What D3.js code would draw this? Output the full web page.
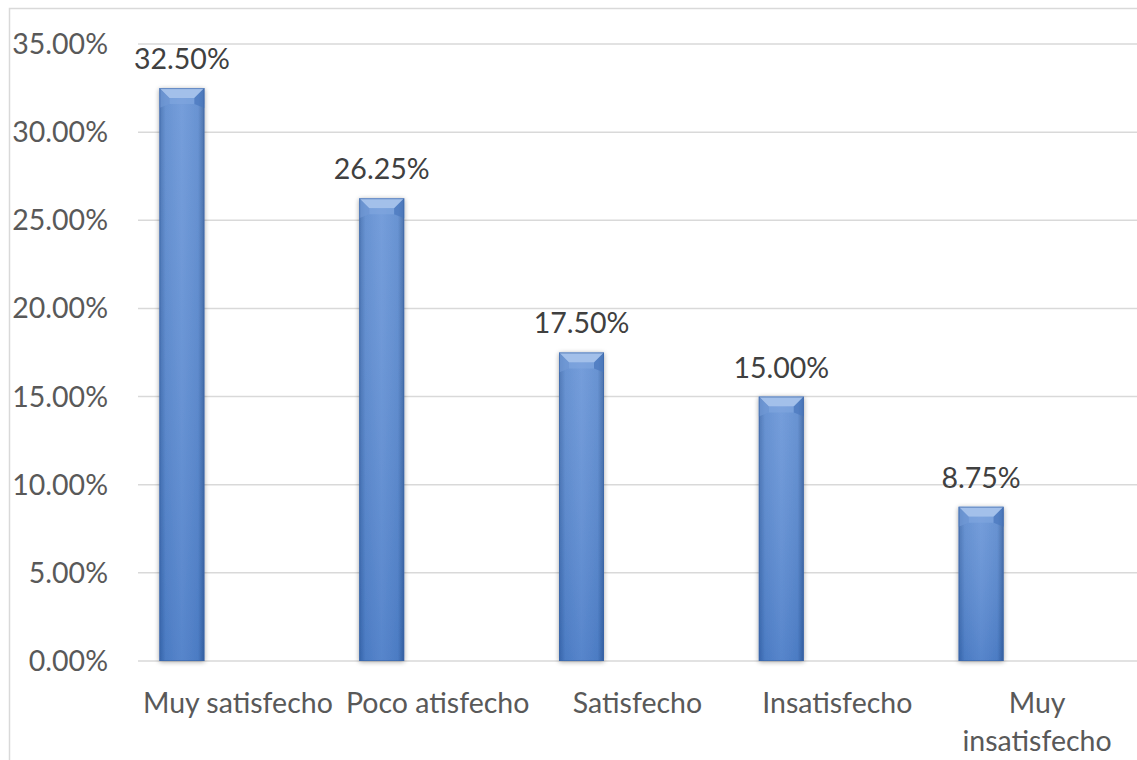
<!DOCTYPE html>
<html><head><meta charset="utf-8">
<script src="https://cdn.jsdelivr.net/npm/d3@7"></script>
<style>body{margin:0;background:#fff;}svg{display:block;}</style>
</head><body>
<svg id="c" width="1137" height="760"></svg>
<script>
const categories = ["Muy satisfecho","Poco atisfecho","Satisfecho","Insatisfecho","Muy insatisfecho"];
const values = [0.325,0.2625,0.175,0.15,0.0875];
const yTicks = [0,0.05,0.10,0.15,0.20,0.25,0.30,0.35];
const labelLines = [["Muy satisfecho"],["Poco atisfecho"],["Satisfecho"],["Insatisfecho"],["Muy","insatisfecho"]];

(function(){
const svg = d3.select("#c");
const W=1137,H=760;
const pL=138,pR=1137,pT=44,pB=661;
const font="Lato, 'Liberation Sans', sans-serif";
const fs=28.5;

const x = d3.scaleBand().domain(categories).range([pL,pR]).padding(0);
const y = d3.scaleLinear().domain([0,0.35]).range([pB,pT]);

const defs = svg.append("defs");
const g1 = defs.append("linearGradient").attr("id","barH").attr("x1","0").attr("x2","1").attr("y1","0").attr("y2","0");
g1.append("stop").attr("offset","0").attr("stop-color","#3a68ad");
g1.append("stop").attr("offset","0.14").attr("stop-color","#5585cc");
g1.append("stop").attr("offset","0.5").attr("stop-color","#6391d6");
g1.append("stop").attr("offset","0.86").attr("stop-color","#5585cc");
g1.append("stop").attr("offset","1").attr("stop-color","#345f9f");
const g2 = defs.append("linearGradient").attr("id","barV").attr("x1","0").attr("x2","0").attr("y1","0").attr("y2","1");
g2.append("stop").attr("offset","0").attr("stop-color","#ffffff").attr("stop-opacity","0.12");
g2.append("stop").attr("offset","1").attr("stop-color","#1f4f9a").attr("stop-opacity","0.18");
const f = defs.append("filter").attr("id","sh").attr("x","-30%").attr("y","-5%").attr("width","160%").attr("height","110%");
f.append("feGaussianBlur").attr("in","SourceAlpha").attr("stdDeviation","2.5").attr("result","b");
f.append("feOffset").attr("in","b").attr("dx","0").attr("dy","1").attr("result","o");
f.append("feComponentTransfer").attr("in","o").attr("result","o2").append("feFuncA").attr("type","linear").attr("slope","0.35");
const m = f.append("feMerge"); m.append("feMergeNode").attr("in","o2"); m.append("feMergeNode").attr("in","SourceGraphic");

svg.append("path").attr("d",`M9.5,${H} L9.5,8.5 L${W},8.5`).attr("fill","none").attr("stroke","#d9d9d9").attr("stroke-width",1.5);

svg.append("g").selectAll("line").data(yTicks).join("line")
  .attr("x1",pL).attr("x2",pR).attr("y1",d=>y(d)).attr("y2",d=>y(d))
  .attr("stroke","#d9d9d9").attr("stroke-width",1.5);

svg.append("g").selectAll("text").data(yTicks).join("text")
  .attr("x",108).attr("y",d=>y(d)).attr("dy","0.35em").attr("text-anchor","end")
  .attr("font-family",font).attr("font-size",fs).attr("fill","#595959")
  .text(d=>d3.format(".2%")(d));

const bw = 45, off = -56, bv = 10;
const cx = d=>x(d)+x.bandwidth()/2+off;
const bars = svg.append("g").selectAll("g").data(categories).join("g").attr("filter","url(#sh)");
bars.append("rect").attr("x",d=>cx(d)-bw/2).attr("width",bw)
  .attr("y",(d,i)=>y(values[i])).attr("height",(d,i)=>pB-y(values[i]))
  .attr("fill","url(#barH)");
bars.append("rect").attr("x",d=>cx(d)-bw/2).attr("width",bw)
  .attr("y",(d,i)=>y(values[i])).attr("height",(d,i)=>pB-y(values[i]))
  .attr("fill","url(#barV)");
bars.append("path").attr("d",(d,i)=>{const x0=cx(d)-bw/2,x1=cx(d)+bw/2,t=y(values[i]);
  return `M${x0},${t} L${x1},${t} L${x1-bv},${t+bv} L${x0+bv},${t+bv} Z`;}).attr("fill","#a3c0ea");
bars.append("path").attr("d",(d,i)=>{const x0=cx(d)-bw/2,x1=cx(d)+bw/2,t=y(values[i]);
  return `M${x0+bv},${t+bv} L${x1-bv},${t+bv} L${x1-bv},${t+bv+6} L${x0+bv},${t+bv+6} Z`;}).attr("fill","#7fa5de").attr("opacity",0.7);
bars.append("path").attr("d",(d,i)=>{const x0=cx(d)-bw/2,t=y(values[i]);
  return `M${x0},${t} L${x0+bv},${t+bv} L${x0+bv},${t+bv+6} L${x0},${t+bv+10} Z`;}).attr("fill","#7098d4").attr("opacity",0.7);
bars.append("path").attr("d",(d,i)=>{const x1=cx(d)+bw/2,t=y(values[i]);
  return `M${x1},${t} L${x1-bv},${t+bv} L${x1-bv},${t+bv+6} L${x1},${t+bv+10} Z`;}).attr("fill","#4a78bd").attr("opacity",0.7);
bars.append("rect").attr("x",d=>cx(d)-bw/2+0.5).attr("width",bw-1)
  .attr("y",(d,i)=>y(values[i])+0.5).attr("height",(d,i)=>pB-y(values[i])-1)
  .attr("fill","none").attr("stroke","#3a66a8").attr("stroke-width",1).attr("opacity",0.6);

svg.append("g").selectAll("text").data(categories).join("text")
  .attr("x",d=>cx(d)).attr("y",(d,i)=>y(values[i])-29).attr("dy","0.35em").attr("text-anchor","middle")
  .attr("font-family",font).attr("font-size",fs).attr("fill","#404040")
  .text((d,i)=>d3.format(".2%")(values[i]));

const xl = svg.append("g").selectAll("text").data(categories).join("text")
  .attr("x",d=>x(d)+x.bandwidth()/2).attr("y",703).attr("text-anchor","middle")
  .attr("font-family",font).attr("font-size",fs).attr("fill","#595959");
xl.each(function(d,i){
  const t=d3.select(this);
  labelLines[i].forEach((ln,j)=>t.append("tspan").attr("x",x(d)+x.bandwidth()/2).attr("dy",j===0?"0.35em":"38").text(ln));
});
})();
</script>
</body></html>
